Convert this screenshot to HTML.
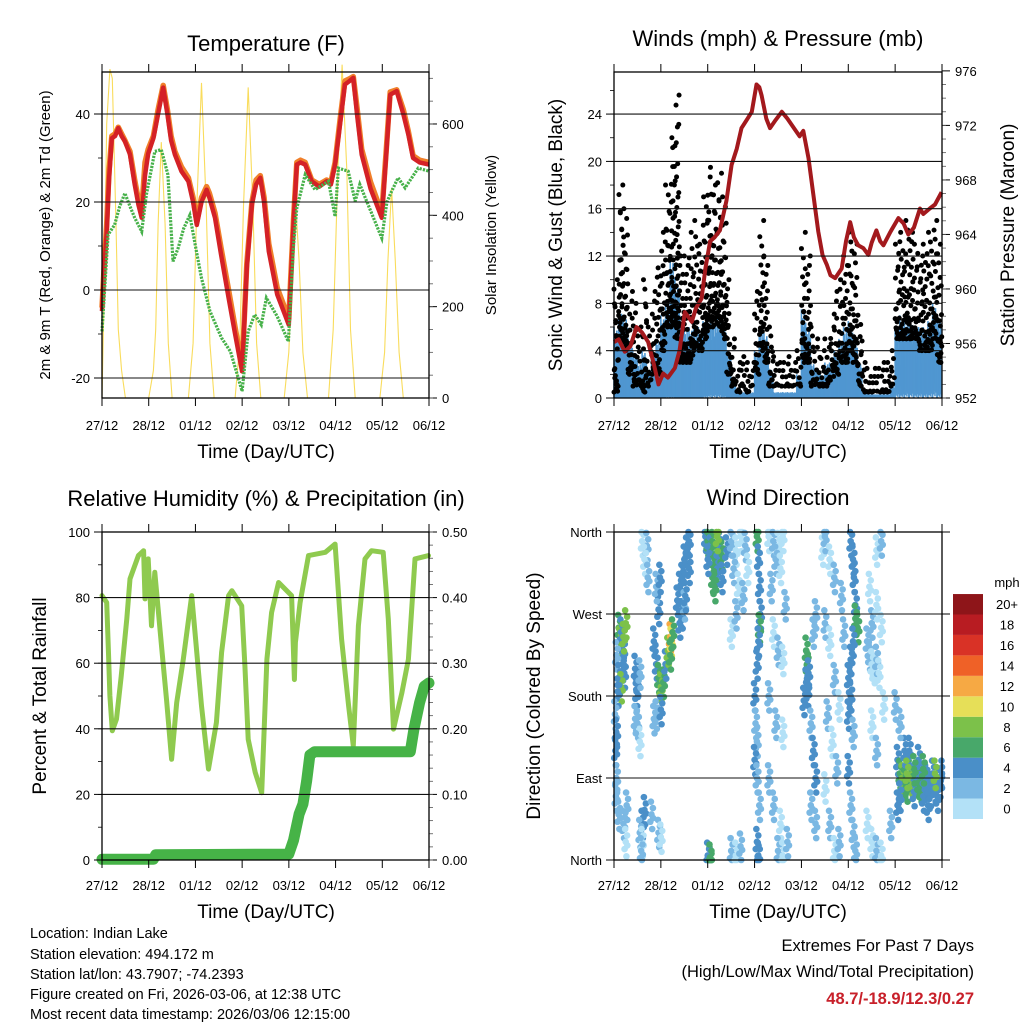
<!DOCTYPE html>
<html><head><meta charset="utf-8"><style>
html,body{margin:0;padding:0;background:#fff;}
svg{display:block;font-family:"Liberation Sans",Arial,sans-serif;}
.t{font-size:13px;fill:#000}
.ttl{font-size:22px;fill:#000}
.ax{font-size:19px;fill:#000}
.info{font-size:14.5px;fill:#000}
</style></head><body>
<svg id="chart" width="1024" height="1024" viewBox="0 0 1024 1024" xmlns="http://www.w3.org/2000/svg">
<rect width="1024" height="1024" fill="#fff"/>
<text class="ttl" x="266" y="51" text-anchor="middle">Temperature (F)</text>
<text class="ttl" x="778" y="46" text-anchor="middle">Winds (mph) &amp; Pressure (mb)</text>
<text class="ttl" x="266" y="506" text-anchor="middle">Relative Humidity (%) &amp; Precipitation (in)</text>
<text class="ttl" x="778" y="505" text-anchor="middle">Wind Direction</text>
<text x="0" y="0" font-size="15" transform="translate(50,235) rotate(-90)" text-anchor="middle">2m &amp; 9m T (Red, Orange) &amp; 2m Td (Green)</text>
<text x="0" y="0" font-size="15" transform="translate(496,235) rotate(-90)" text-anchor="middle">Solar Insolation (Yellow)</text>
<text class="ax" x="0" y="0" transform="translate(562,235) rotate(-90)" text-anchor="middle">Sonic Wind &amp; Gust (Blue, Black)</text>
<text class="ax" x="0" y="0" transform="translate(1014,235) rotate(-90)" text-anchor="middle">Station Pressure (Maroon)</text>
<text class="ax" x="0" y="0" transform="translate(46,696) rotate(-90)" text-anchor="middle">Percent &amp; Total Rainfall</text>
<text class="ax" x="0" y="0" transform="translate(540,696) rotate(-90)" text-anchor="middle">Direction (Colored By Speed)</text>
<text class="ax" x="266" y="458" text-anchor="middle">Time (Day/UTC)</text>
<text class="ax" x="778" y="458" text-anchor="middle">Time (Day/UTC)</text>
<text class="ax" x="266" y="918" text-anchor="middle">Time (Day/UTC)</text>
<text class="ax" x="778" y="918" text-anchor="middle">Time (Day/UTC)</text>
<g>
<text class="info" x="30" y="938">Location: Indian Lake</text>
<text class="info" x="30" y="959">Station elevation: 494.172 m</text>
<text class="info" x="30" y="979">Station lat/lon: 43.7907; -74.2393</text>
<text class="info" x="30" y="999">Figure created on Fri, 2026-03-06, at 12:38 UTC</text>
<text class="info" x="30" y="1019">Most recent data timestamp: 2026/03/06 12:15:00</text>
</g>
<g>
<text x="974" y="951" font-size="16.5" text-anchor="end">Extremes For Past 7 Days</text>
<text x="974" y="977" font-size="16.5" text-anchor="end">(High/Low/Max Wind/Total Precipitation)</text>
<text x="974" y="1004" font-size="16.5" font-weight="bold" fill="#c8202a" text-anchor="end">48.7/-18.9/12.3/0.27</text>
</g>
<text class="t" x="1007" y="587" text-anchor="middle" font-size="14">mph</text>
</svg>
<script>
// ---------- data ----------
const dayLabels = ["27/12","28/12","01/12","02/12","03/12","04/12","05/12","06/12"];
const tempTicks = [-20,0,20,40];
const solarTicks = [0,200,400,600];
const windTicks = [0,4,8,12,16,20,24];
const pressTicks = [952,956,960,964,968,972,976];
const rhTicks = [0,20,40,60,80,100];
const precipTicks = ["0.00","0.10","0.20","0.30","0.40","0.50"];
const dirTicks = ["North","East","South","West","North"];
const speedBins = ["0","2","4","6","8","10","12","14","16","18","20+"];

const tempT = [0,0.05,0.1,0.15,0.21,0.28,0.35,0.42,0.49,0.6,0.7,0.78,0.85,0.92,0.99,1.1,1.2,1.31,1.4,1.48,1.56,1.7,1.85,1.95,2.03,2.13,2.24,2.3,2.42,2.55,2.71,2.85,3.0,3.1,3.21,3.3,3.39,3.47,3.57,3.75,4.0,4.1,4.17,4.25,4.35,4.49,4.65,4.81,4.9,4.99,5.1,5.2,5.3,5.38,5.46,5.56,5.75,5.99,6.08,6.17,6.31,6.45,6.56,6.66,6.8,7.0];
const tempRed = [-4.8,5,13,25,34.5,35,36.8,35,33.8,30.8,24,19.4,16.4,26,31,34.5,40,46,40,34,30.8,27,24.7,20,14.8,20,22.8,21,16.4,8,-1.8,-10,-18.5,5,19.4,24,25.5,20,8.8,-1,-7.9,15,28.5,29,28.5,24.7,23.5,24.7,24,28.5,38,46.7,47.5,48.2,40,30.8,23,16.4,30,44.4,45.2,40,35.3,30,29,28.5];
const tempOrange = [-4,6,15,27,35,35.5,37,35.5,34,31.5,25,20.5,18,29,32,35,41,46.5,41,35,31.5,28,25.5,21,15.5,21,23.5,22,17.5,9.5,0,-8.5,-17.5,6,20,25,26,21,10.5,0.5,-6.5,16,29,29.5,29,25,24,25,24.5,29,39,47.5,48,48.5,41.5,32,24.5,17.5,31,45,45.5,41,36,30.5,29.5,29];
const dewT = [0,0.13,0.27,0.38,0.49,0.6,0.7,0.85,0.95,1.05,1.13,1.27,1.41,1.52,1.63,1.75,1.88,2.02,2.13,2.31,2.4,2.56,2.75,3.0,3.13,3.27,3.41,3.52,3.75,3.99,4.1,4.17,4.35,4.56,4.85,4.99,5.06,5.27,5.42,5.52,5.75,5.99,6.1,6.2,6.34,6.49,6.6,6.77,7.0];
const dewV = [-9.4,12.6,14.8,19,22,19,16.4,13.3,21.7,27,31.5,31.9,26.2,6.5,9.5,14,17,8.8,2.7,-4.8,-7,-10.9,-14,-23,-9.4,-5.6,-7.9,-1.8,-6,-11.7,10,18.6,26.2,22.8,24.7,16.7,27.7,27,20.2,24,18,11.8,20,22.4,25.5,23.2,25,27.7,27];
const solarT = [0,0.05,0.1,0.17,0.22,0.3,0.35,0.42,0.5,1.0,1.1,1.15,1.2,1.27,1.35,1.42,1.5,1.85,1.95,2.03,2.13,2.23,2.31,2.4,2.85,2.95,3.03,3.13,3.23,3.31,3.4,3.9,4.0,4.08,4.15,4.22,4.3,4.4,4.85,4.95,5.05,5.14,5.24,5.32,5.42,5.95,6.05,6.12,6.2,6.28,6.36,6.45,7.0];
const solarV = [0,250,600,720,700,380,150,60,0,0,60,150,380,560,380,120,0,0,120,420,690,420,120,0,0,120,420,680,420,120,0,0,100,300,420,300,100,0,0,150,500,730,500,150,0,0,100,300,460,300,100,0,0];

const gustHi = [10,18,16,9,8,6,10,6,9,11,14,18,22,25.6,12,12,14,15,13,17,19.5,18,19,17,10,5,3,3.5,3,3,9,15,12,6,3.5,3,3,3.5,3,4,14,12,6,5,4,5,6,9,10,12,14,13,7,3,2.5,2.5,2.5,3,3,4,13,14,15,14,13,12,13,14,15,13];
const gustLo = [0.5,5,4,2,1,1,0.5,1,2,2,4,6,6,5,3,3,3,4,4,5,6,6,6,5,2,1,0.5,1,0.5,1,2,4,3,1,1,1,1,1,1,1,3,3,1,1,1,1,1.5,2,3,3,4,3,1,0.5,0.5,0.5,0.5,0.5,0.5,1,5,5,5,5,5,4,4,4,5,3];
const windHi = [6,7.5,7,5,4,3,4,2.5,4,5,7,8,12,10,7,6,6,6,6,6.5,7,6.5,7,6.5,4,1.5,0.5,0.5,0.5,0.5,4,6,5.5,2.5,0.5,0.5,0.5,0.5,0.5,2,7.5,6,3,2.5,2,3,3,4,5,6,6.5,5,3,0.5,0.3,0.3,0.3,0.3,0.3,1,6,7,6.5,6.5,6,6,6,6.5,8,7];
const windLo = [0,0,0,0,0,0,0,0,0,0,0,0.3,0.3,0,0,0,0,0,0,0.5,0.8,0.8,0.8,0.5,0,0,0,0,0,0,0,0,0,0,0,0,0,0,0,0,0,0,0,0,0,0,0,0,0,0,0,0,0,0,0,0,0,0,0,0,1,1,1.2,1.2,1,1,1,1.2,1.5,1];
const pressT = [0,0.1,0.23,0.35,0.48,0.6,0.73,0.85,0.95,1.05,1.15,1.3,1.4,1.51,1.66,1.75,1.87,1.95,2.05,2.15,2.26,2.4,2.51,2.62,2.72,2.85,2.94,3.04,3.1,3.15,3.25,3.33,3.45,3.58,3.7,3.86,3.96,4.04,4.15,4.25,4.36,4.45,4.54,4.62,4.72,4.86,4.95,5.04,5.12,5.21,5.32,5.43,5.5,5.6,5.68,5.75,5.9,6.07,6.18,6.28,6.4,6.53,6.6,6.74,6.85,6.99];
const pressV = [956.1,956.3,955.4,955.8,957.2,956.8,956.1,954.5,953,953.8,953.5,954.2,955.5,958.3,957.6,958.6,959.3,961.5,963.5,963.8,964.3,966.5,969.1,970.3,971.8,972.5,973,975,974.8,974.2,972.5,971.8,972.4,973,972.5,971.7,971.2,971.6,969.6,967,964.2,962.5,961.8,961,960.8,961.5,963.5,964.9,963.8,963.2,963,962.5,963.4,964.3,963.5,963.2,964.2,965.2,964.8,964,964.5,965.9,965.5,965.9,966.2,967.1];

const rhT = [0,0.1,0.14,0.17,0.22,0.31,0.41,0.53,0.6,0.78,0.89,0.92,0.99,1.06,1.13,1.28,1.38,1.49,1.6,1.74,1.92,1.99,2.13,2.28,2.45,2.56,2.71,2.78,2.99,3.06,3.13,3.28,3.42,3.53,3.63,3.78,4.06,4.12,4.14,4.24,4.42,4.78,4.99,5.13,5.28,5.38,5.49,5.63,5.77,6.02,6.13,6.24,6.42,6.56,6.7,6.99];
const rhV = [80.6,78.5,63,50,39.4,43,56,73.5,85.7,92.8,94.3,79.6,91.8,71.4,87.7,64.3,49,30.7,48,61.2,80.6,69.4,47,27.7,41.9,63.3,80.6,82.1,77.5,59.2,36.8,26.7,20.5,61.2,75.5,84.6,80.6,55,66.3,78.5,92.8,93.8,96.3,67.3,47,34.8,71.4,91.8,94.3,93.8,73.5,39.9,51,61.2,91.8,92.8];
const precipT = [0,1.1,1.15,4.0,4.1,4.22,4.3,4.38,4.45,4.55,6.6,6.68,6.8,6.9,7.0];
const precipV = [0.001,0.001,0.008,0.009,0.03,0.07,0.085,0.12,0.16,0.165,0.165,0.2,0.24,0.265,0.27];

const dirT = [0.1,0.12,0.15,0.2,0.18,0.22,0.05,0.1,0.15,0.25,0.2,0.08,0.02,0.05,0.03,0.05,0.04,0.1,0.2,0.25,0.27,0.6,0.7,0.65,0.72,
0.45,0.5,0.48,0.55,0.5,0.55,0.45,0.6,0.65,0.55,0.6,0.58,
0.85,0.9,0.95,1.0,1.05,1.1,1.15,1.2,1.22,1.25,1.2,0.95,0.9,0.98,0.85,0.9,1.0,0.8,0.95,1.0,
1.35,1.4,1.45,1.5,1.55,1.6,1.4,1.45,1.5,1.52,1.6,
1.95,2.0,2.05,2.1,2.15,2.2,2.25,2.3,2.1,2.15,2.2,2.3,2.0,2.4,2.05,2.0,2.05,
2.5,2.6,2.7,2.55,2.65,2.8,2.85,2.75,2.5,2.6,2.7,2.5,2.6,
3.05,3.08,3.1,3.12,3.1,3.08,3.05,3.0,3.02,3.05,3.0,3.05,3.1,3.05,3.08,
3.3,3.4,3.5,3.6,3.45,3.55,3.35,3.65,3.4,3.5,3.6,3.3,3.45,3.6,3.3,3.4,3.55,3.5,3.6,3.7,
4.1,4.12,4.15,4.1,4.13,4.05,4.2,4.25,4.3,4.2,4.3,4.25,4.3,
4.45,4.5,4.6,4.7,4.5,4.6,4.7,4.8,4.55,4.65,4.75,4.5,4.6,4.7,4.8,4.85,4.9,
5.05,5.1,5.12,5.15,5.15,5.2,5.1,5.05,5.0,5.05,5.0,5.1,5.0,5.05,5.1,5.15,
5.4,5.45,5.5,5.55,5.6,5.65,5.5,5.6,5.7,5.45,5.6,5.7,5.5,5.6,5.75,5.5,5.6,5.7,5.4,
6.05,6.1,6.15,6.2,6.25,6.3,6.35,6.4,6.45,6.5,6.55,6.6,6.65,6.7,6.75,6.8,6.85,6.9,6.95,7.0,6.1,6.2,6.3,6.05,6.5,6.6,6.7,6.85,6.4,6.25,6.1,6.0,5.9];
const dirD = [255,240,250,230,215,205,225,200,190,260,245,185,160,140,120,90,70,50,40,20,60,350,345,330,310,
210,195,185,205,150,130,155,40,55,30,20,10,
240,215,200,190,195,215,230,245,240,250,225,275,300,310,155,160,165,50,30,25,
285,300,310,330,340,320,260,270,280,290,350,
355,350,340,350,330,320,345,335,310,300,355,310,330,340,0,5,3,
350,340,355,320,300,345,320,290,10,5,15,250,270,
355,330,300,270,255,240,215,180,150,130,110,90,60,20,5,
355,350,345,355,330,320,300,280,250,230,220,180,150,140,90,60,40,10,5,20,
230,215,205,195,185,175,150,120,90,60,40,250,270,
340,355,330,310,260,240,200,170,160,130,100,80,40,10,20,290,250,
350,330,310,280,265,255,240,220,200,180,160,140,100,60,30,10,
240,225,215,210,220,205,260,280,255,300,340,350,150,120,170,20,10,5,40,
110,95,90,85,80,95,88,75,90,85,80,70,90,85,75,95,80,70,85,95,70,120,120,60,110,100,60,95,100,95,150,170,40];
const dirS = [6,8,4,4,4,3,2,4,7,7,8,4,2,3,3,2,1,1,1,0,2,0,1,0,1,
4,3,3,2,1,0,1,3,3,1,0,1,
3,4,6,8,6,4,8,11,10,6,5,3,2,3,2,2,3,2,1,0,
4,4,3,3,4,4,3,4,2,3,3,
4,6,4,6,6,4,4,6,6,5,7,3,4,3,5,4,6,
1,0,0,1,0,1,0,1,1,0,1,0,1,
5,4,4,4,5,4,3,3,2,2,3,2,2,3,3,
0,1,0,0,1,0,1,1,0,1,0,1,1,0,1,1,0,1,0,1,
5,6,4,4,4,3,2,3,4,2,2,1,2,
0,1,0,1,1,0,1,0,1,0,1,0,1,0,1,2,2,
3,4,4,4,6,6,4,4,4,4,3,2,3,2,2,1,
1,1,0,0,1,0,1,0,0,0,0,1,0,1,0,0,1,0,0,
4,6,7,6,6,6,7,4,4,5,6,4,4,3,4,4,4,4,4,3,4,4,3,3,4,5,3,7,6,7,2,1,1];
const binColors = ["#b3e1f7","#7bb8e3","#4a8fc8","#48a86a","#7cc14a","#e6df58","#f6a944","#ef6127","#d93226","#b81c22","#8e1519"];

// ---------- scales ----------
const NS = "http://www.w3.org/2000/svg";
const svg = document.getElementById("chart");
const xL = t => 102 + t * 46.71;
const xR = t => 614 + t * 46.86;
const yTemp = v => 290 - 4.4 * v;
const ySolar = v => 398 - 0.4567 * v;
const yWind = v => 398 - 11.83 * v;
const yPress = p => 398 - (p - 952) * 13.63;
const yRH = v => 860 - 3.28 * v;
const yPrecip = v => 860 - 656 * v;
const yDir = d => 860 - d * 0.9111;

function mk(tag, attrs, parent) {
  const e = document.createElementNS(NS, tag);
  for (const k in attrs) e.setAttribute(k, attrs[k]);
  (parent || svg).appendChild(e);
  return e;
}
function group(name) {
  const g = mk("g", {});
  
  
  return g;
}
function pathD(ts, vs, fx, fy) {
  return ts.map((t, i) => (i ? "L" : "M") + fx(t).toFixed(1) + "," + fy(vs[i]).toFixed(1)).join("");
}

// ---------- frames / grids / ticks ----------
function frame(x0, x1, y0, y1, name, leftVals, leftY, leftLab, leftMinorStep, rightVals, rightY, rightLab, rightMinor, bottomY) {
  const g = group(name);
  leftVals.forEach(v => {
    const y = leftY(v);
    if (y > y0 + 1 && y < y1 - 1) mk("line", {x1: x0, x2: x1, y1: y, y2: y, stroke: "#111", "stroke-width": 1.1}, g);
    mk("line", {x1: x0 - 8, x2: x0, y1: y, y2: y, stroke: "#000", "stroke-width": 1}, g);
  });
  leftMinorStep.forEach(v => {
    const y = leftY(v);
    if (y >= y0 && y <= y1) mk("line", {x1: x0 - 4, x2: x0, y1: y, y2: y, stroke: "#000", "stroke-width": 0.8}, g);
  });
  leftVals.forEach((v, i) => {
    const tx = mk("text", {x: x0 - 12, y: leftY(v) + 5, class: "t", "text-anchor": "end"}, g);
    tx.textContent = leftLab[i];
  });
  rightVals.forEach((v, i) => {
    const y = rightY(v);
    mk("line", {x1: x1, x2: x1 + 8, y1: y, y2: y, stroke: "#000", "stroke-width": 1}, g);
    if (rightLab) {
      const tx = mk("text", {x: x1 + 13, y: y + 5, class: "t"}, g);
      tx.textContent = rightLab[i];
    }
  });
  rightMinor.forEach(v => {
    const y = rightY(v);
    if (y >= y0 && y <= y1) mk("line", {x1: x1, x2: x1 + 4, y1: y, y2: y, stroke: "#555", "stroke-width": 0.8}, g);
  });
  for (let d = 0; d < 8; d++) {
    const x = x0 + d * (x1 - x0) / 7;
    mk("line", {x1: x, x2: x, y1: y1, y2: y1 + 8, stroke: "#000", "stroke-width": 1}, g);
    mk("line", {x1: x, x2: x, y1: y0, y2: y0 - 8, stroke: "#000", "stroke-width": 1}, g);
    const tx = mk("text", {x: x, y: bottomY, class: "t", "text-anchor": "middle"}, g);
    tx.textContent = dayLabels[d];
  }
  mk("rect", {x: x0, y: y0, width: x1 - x0, height: y1 - y0, fill: "none", stroke: "#000", "stroke-width": 1.3}, g);
}
function range(a, b, s) { const r = []; for (let v = a; v <= b + 1e-9; v += s) r.push(+v.toFixed(4)); return r; }

// ---------- panel 1: temperature ----------
const gSolar = group("solar-insolation-series");
const sl = mk("path", {d: pathD(solarT, solarV, xL, ySolar), fill: "none", stroke: "#f9dc5c", "stroke-width": 1.1}, gSolar);


const gT = group("temperature-series");
const o = mk("path", {d: pathD(tempT, tempOrange, xL, yTemp), fill: "none", stroke: "#f07f2a", "stroke-width": 5.5, "stroke-linejoin": "round"}, gT);


const r = mk("path", {d: pathD(tempT, tempRed, xL, yTemp), fill: "none", stroke: "#d42126", "stroke-width": 4.5, "stroke-linejoin": "round"}, gT);


const dw = mk("path", {d: pathD(dewT, dewV, xL, yTemp), fill: "none", stroke: "#47b14a", "stroke-width": 3.2, "stroke-dasharray": "2.2 1.2"}, gT);


frame(102, 429, 72, 398, "temperature-axes", tempTicks, yTemp, tempTicks.map(String), range(-20, 50, 10), solarTicks, ySolar, solarTicks.map(String), range(0, 700, 50), 430);

// ---------- panel 2: winds & pressure ----------
const bw = 0.1;
const gWind = group("wind-speed-series");
const shape = [1, 0.55, 0.9, 0.4, 0.8, 0.6, 0.95, 0.5, 0.7, 0.85];
const lowShape = [0, 0.6, 0.2, 1, 0.4, 0.1, 0.8, 0.3, 0.5, 0];
windHi.forEach((hi, i) => {
  for (let k = 0; k < 10; k++) {
    const t = i * bw + k * bw / 10;
    const top = hi * shape[k];
    const bot = windLo[i] * lowShape[k];
    const ln = mk("line", {x1: xR(t), x2: xR(t), y1: yWind(bot), y2: yWind(Math.max(top, bot + 0.3)), stroke: "#5097d1", "stroke-width": 1.6}, gWind);
    
    
  }
});
const gGust = group("wind-gust-series");
gustHi.forEach((hi, i) => {
  const lo = gustLo[i];
  const n = Math.max(4, Math.round((hi - lo) * 2.2));
  for (let k = 0; k <= n; k++) {
    const f = ((k * 53) % (n + 1)) / (n + 1);
    const v = k === n ? hi : lo + (hi - lo) * f * f * 0.95 + (hi - lo) * 0.05 * (k % 2);
    const t = i * bw + ((k * 37 + i * 13) % 17) / 17 * bw;
    const c = mk("circle", {cx: xR(t), cy: yWind(v), r: 2.5, fill: "#000"}, gGust);
    
    
  }
});
const pl = mk("path", {d: pathD(pressT, pressV, xR, yPress), fill: "none", stroke: "#a3191d", "stroke-width": 4, "stroke-linejoin": "round"});


frame(614, 942, 72, 398, "winds-axes", windTicks, yWind, windTicks.map(String), range(0, 26, 2), pressTicks, yPress, pressTicks.map(String), range(952, 977, 1), 430);

// ---------- panel 3: humidity & precip ----------
const rh = mk("path", {d: pathD(rhT, rhV, xL, yRH), fill: "none", stroke: "#8fca4f", "stroke-width": 5, "stroke-linecap": "round", "stroke-linejoin": "round"});


const pr = mk("path", {d: pathD(precipT, precipV, xL, yPrecip), fill: "none", stroke: "#46b347", "stroke-width": 11, "stroke-linecap": "round", "stroke-linejoin": "round"});


const pVals = precipTicks.map(Number);
frame(102, 429, 532, 860, "humidity-axes", rhTicks, yRH, rhTicks.map(String), range(0, 100, 10), pVals, yPrecip, precipTicks, range(0, 0.5, 0.02), 890);

// ---------- panel 4: wind direction ----------
const gDir = group("wind-direction-points");
const jit = [[0,0],[0.03,7],[-0.025,-8],[0.015,-16],[-0.012,14],[0.035,-4]];
dirT.forEach((t, i) => {
  const bin = Math.min(10, Math.floor(dirS[i] / 2 + 0.5));
  jit.forEach((j, k) => {
    const d = Math.max(0, Math.min(360, dirD[i] + j[1]));
    const tt = Math.max(0, Math.min(7, t + j[0]));
    const c = mk("circle", {cx: xR(tt), cy: yDir(d), r: 3.3, fill: binColors[bin]}, gDir);
    
    
  });
});
frame(614, 942, 532, 860, "direction-axes", [0, 90, 180, 270, 360], yDir, dirTicks, [], [0, 90, 180, 270, 360], yDir, null, [], 890);

// ---------- colorbar ----------
const gCb = group("speed-colorbar");
speedBins.forEach((lab, i) => {
  const y = 819 - (i + 1) * 20.45;
  const b = mk("rect", {x: 953, y: y, width: 30, height: 20.45, fill: binColors[i]}, gCb);
  
  
  const tx = mk("text", {x: 1007, y: y + 15, class: "t", "text-anchor": "middle", "font-size": 14}, gCb);
  tx.textContent = lab;
});
</script>
</body></html>
